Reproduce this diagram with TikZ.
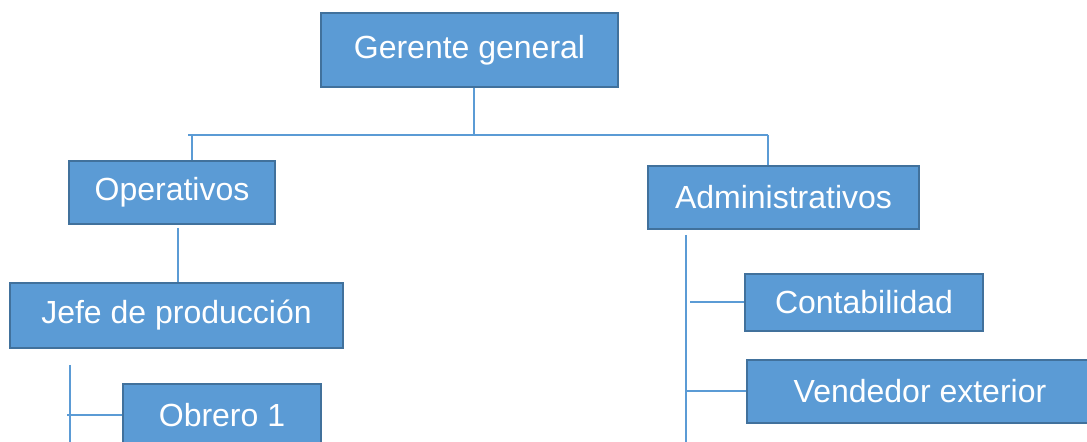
\documentclass[tikz,border=0pt]{standalone}
\usepackage{fontspec}
\setmainfont{Liberation Sans}
\usepackage{tikz}
\usetikzlibrary{positioning}

\definecolor{cajaazul}{RGB}{91,155,213}
\definecolor{bordeazul}{RGB}{65,113,156}
\tikzset{
  puesto/.style={draw=bordeazul,line width=0.75pt,fill=cajaazul,text=white,
    font=\fontsize{16}{19}\selectfont,inner sep=0pt},
  linea/.style={draw=cajaazul,line width=1pt}
}

\begin{document}
\begin{tikzpicture}[x=0.5pt,y=-0.5pt]
  \useasboundingbox (0,0) rectangle (1087,442);
  \clip (0,0) rectangle (1087,442);
  \node[puesto,minimum width=148.5pt,minimum height=37pt] (ger) at (469.5,50) {Gerente general};
  \node[puesto,minimum width=103pt,minimum height=31.5pt] (oper) at (172,192.5) {Operativos};
  \node[puesto,minimum width=135.5pt,minimum height=31.5pt] (admin) at (783.5,197.5) {Administrativos};
  \node[puesto,minimum width=166.5pt,minimum height=32.5pt] (jefe) at (176.5,315.5) {Jefe de producción};
  \node[puesto,minimum width=99pt,minimum height=31.5pt] (obrero) at (222,415.5) {Obrero 1};
  \node[puesto,minimum width=119pt,minimum height=28.5pt] (conta) at (864,302.5) {Contabilidad};
  \node[puesto,minimum width=173pt,minimum height=31.5pt] (vend) at (920,391.5) {Vendedor exterior};
  % barra principal
  \coordinate (barL) at (188,135);
  \coordinate (barR) at (768,135);
  \coordinate (opTop) at (192,135);
  \coordinate (gTop) at (474,88);
  \draw[linea] (gTop) -- (gTop |- barL);
  \draw[linea] (barL) -- (barR);
  \draw[linea] (opTop) -- (opTop |- oper.north);
  \draw[linea] (barR) -- (barR |- admin.north);
  % operativos
  \coordinate (opBot) at (178,228);
  \draw[linea] (opBot) -- (opBot |- jefe.north);
  \coordinate (jTop) at (70,365);
  \coordinate (jBot) at (70,450);
  \draw[linea] (jTop) -- (jBot);
  \draw[linea] (obrero.west -| 67,0) -- (obrero.west);
  % administrativos
  \coordinate (aTop) at (686,235);
  \coordinate (aBot) at (686,450);
  \draw[linea] (aTop) -- (aBot);
  \draw[linea] (conta.west -| 690,0) -- (conta.west);
  \draw[linea] (vend.west -| 687,0) -- (vend.west);
\end{tikzpicture}
\end{document}
